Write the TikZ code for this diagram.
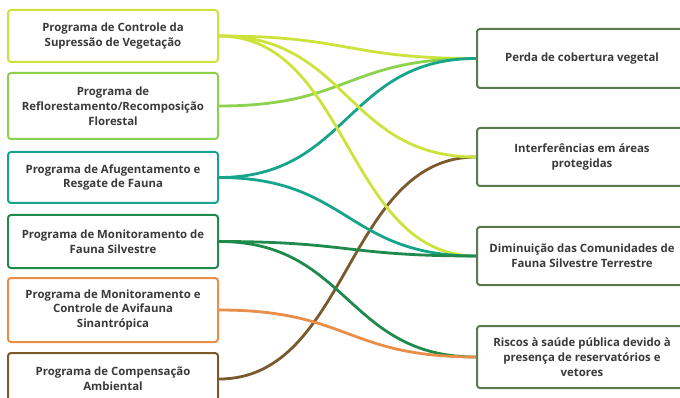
\documentclass[tikz,border=0pt]{standalone}
\usepackage{fontspec}
\setmainfont{Open Sans}
\definecolor{cA}{HTML}{CDE33C}
\definecolor{cB}{HTML}{8DD24C}
\definecolor{cC}{HTML}{16A58B}
\definecolor{cD}{HTML}{1E8A4C}
\definecolor{cE}{HTML}{E88E48}
\definecolor{cF}{HTML}{7A5A2C}
\definecolor{cR}{HTML}{5B7A4C}
\definecolor{txt}{HTML}{3A3A3A}
\begin{document}
\begin{tikzpicture}[x=1pt,y=-1pt,
  box/.style={draw, line width=2pt, rounded corners=3pt, fill=white,
    minimum width=210pt, align=center, text=txt,
    font=\fontsize{11.4}{14.8}\selectfont\bfseries, inner sep=0pt},
  rbox/.style={box, draw=cR},
  link/.style={line width=2.8pt}]
\useasboundingbox (0,0) rectangle (680,398);
\node[box, draw=cA, minimum height=52pt] (l1) at (113,36) {Programa de Controle da\\Supressão de Vegetação};
\node[box, draw=cB, minimum height=66pt] (l2) at (113,106) {Programa de\\Reflorestamento/Recomposição\\Florestal};
\node[box, draw=cC, minimum height=51pt] (l3) at (113,177.5) {Programa de Afugentamento e\\Resgate de Fauna};
\node[box, draw=cD, minimum height=53pt] (l4) at (113,241.5) {Programa de Monitoramento de\\Fauna Silvestre};
\node[box, draw=cE, minimum height=64pt] (l5) at (113,310) {Programa de Monitoramento e\\Controle de Avifauna\\Sinantrópica};
\node[box, draw=cF, minimum height=52pt] (l6) at (113,379) {Programa de Compensação\\Ambiental};
\node[rbox, minimum height=59pt] (r1) at (582,58.5) {Perda de cobertura vegetal};
\node[rbox, minimum height=58pt] (r2) at (582,157) {Interferências em áreas\\protegidas};
\node[rbox, minimum height=58pt] (r3) at (582,256) {Diminuição das Comunidades de\\Fauna Silvestre Terrestre};
\node[rbox, minimum height=62pt] (r4) at (582,357) {Riscos à saúde pública devido à\\presença de reservatórios e\\vetores};
\draw[link, cA] (l1.east) .. controls +(130,0) and +(-130,0) .. (r1.west);
\draw[link, cB] (l2.east) .. controls +(130,0) and +(-130,0) .. (r1.west);
\draw[link, cC] (l3.east) .. controls +(130,0) and +(-130,0) .. (r1.west);
\draw[link, cF] (l6.east) .. controls +(130,0) and +(-130,0) .. (r2.west);
\draw[link, cA] (l1.east) .. controls +(130,0) and +(-130,0) .. (r2.west);
\draw[link, cD] (l4.east) .. controls +(130,0) and +(-130,0) .. (r4.west);
\draw[link, cE] (l5.east) .. controls +(130,0) and +(-130,0) .. (r4.west);
\draw[link, cA] (l1.east) .. controls +(130,0) and +(-130,0) .. (r3.west);
\draw[link, cC] (l3.east) .. controls +(130,0) and +(-130,0) .. (r3.west);
\draw[link, cD] (l4.east) .. controls +(130,0) and +(-130,0) .. (r3.west);
\end{tikzpicture}
\end{document}
